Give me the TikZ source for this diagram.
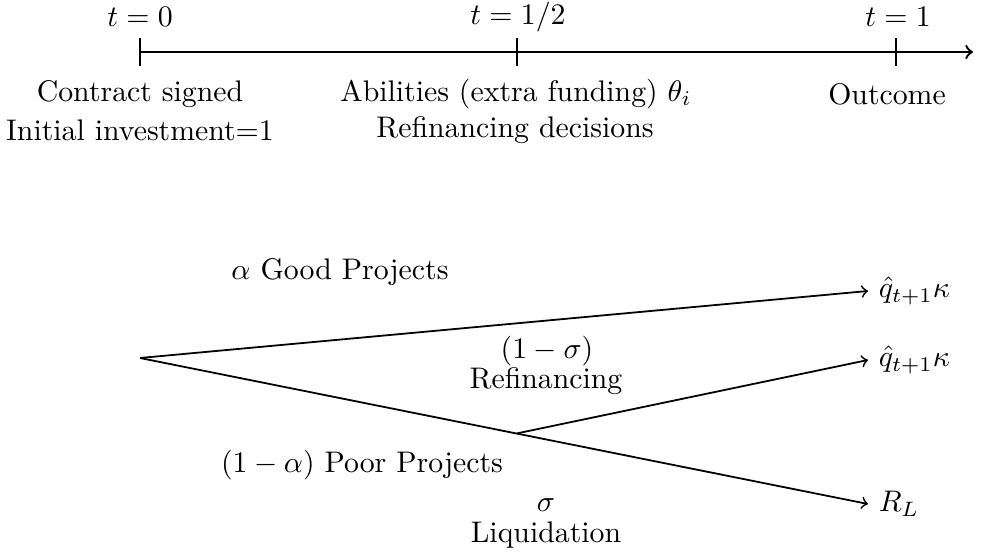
\documentclass[tikz,border=0pt]{standalone}
\begin{document}
\begin{tikzpicture}[x=0.0118cm, y=-0.0118cm, semithick]
\useasboundingbox (0,0) rectangle (986,555);
% time line
\coordinate (L_0) at (140,52);
\coordinate (L_1) at (973,52);
\draw[thick, ->] (L_0) -- (L_1);
\coordinate (K_0a) at (140,38);
\coordinate (K_0b) at (140,66);
\draw[thick] (K_0a) -- (K_0b);
\coordinate (K_1a) at (517,38);
\coordinate (K_1b) at (517,66);
\draw[thick] (K_1a) -- (K_1b);
\coordinate (K_2a) at (896,38);
\coordinate (K_2b) at (896,66);
\draw[thick] (K_2a) -- (K_2b);
\node (T_0) at (140,17) {$t=0$};
\node (T_1) at (518,17) {$t=1/2$};
\node (T_2) at (898,17) {$t=1$};
\node (D_0_0) at (140,94) {Contract signed};
\node (D_0_1) at (140,130) {Initial investment=1};
\node (D_1_0) at (516,94) {Abilities (extra funding) $\theta_i$};
\node (D_1_1) at (515,130) {Refinancing decisions};
\node (D_2_0) at (887,94) {Outcome};
% tree
\coordinate (P_0) at (140,358);
\coordinate (P_1) at (517,433.4);
\node[anchor=west] (E_0) at (868,291) {$\hat{q}_{t+1}\kappa$};
\node[anchor=west] (E_1) at (868,360) {$\hat{q}_{t+1}\kappa$};
\node[anchor=west] (E_2) at (868,504) {$R_L$};
\draw[->] (P_0) -- (E_0.west);
\draw[->] (P_1) -- (E_1.west);
\draw[->] (P_0) -- (E_2.west);
\node (G_0) at (340,272) {$\alpha$ Good Projects};
\node (G_1) at (362,465) {$(1-\alpha)$ Poor Projects};
\node (S_0) at (547,351) {$(1-\sigma)$};
\node (S_1) at (546,381) {Refinancing};
\node (S_2) at (546,505) {$\sigma$};
\node (S_3) at (546,535) {Liquidation};
\end{tikzpicture}
\end{document}
